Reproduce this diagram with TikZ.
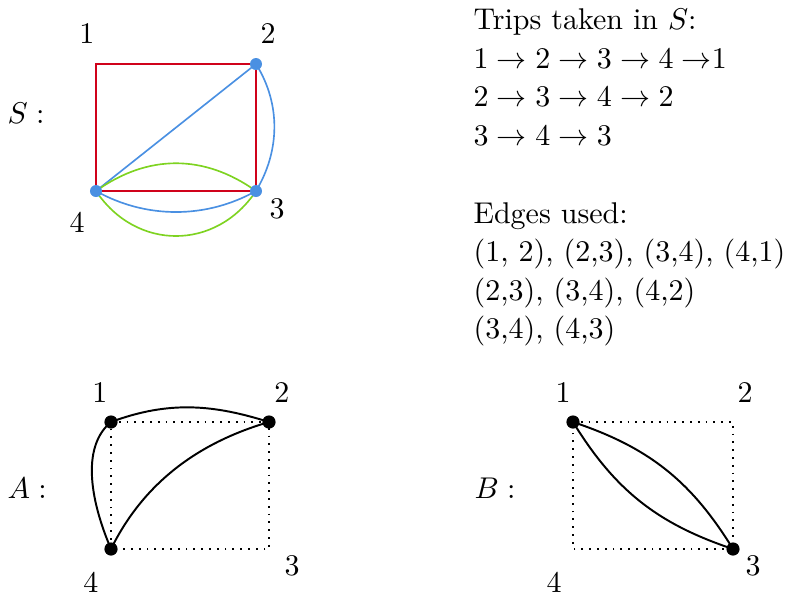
\documentclass[tikz,border=0pt]{standalone}
\definecolor{sred}{HTML}{D0021B}
\definecolor{sblue}{HTML}{4A90E2}
\definecolor{sgreen}{HTML}{7ED321}
\begin{document}
\begin{tikzpicture}[x=0.3333pt,y=-0.3333pt,
  lbl/.style={anchor=base,inner sep=0pt},
  txt/.style={anchor=base west,inner sep=0pt},
  redge/.style={draw=sred,line width=0.7pt},
  bedge/.style={draw=sblue,line width=0.55pt},
  gedge/.style={draw=sgreen,line width=0.55pt},
  kedge/.style={draw=black,line width=0.65pt},
  dedge/.style={draw=black,line width=0.6pt,dotted},
  bdot/.style={circle,fill=sblue,inner sep=0pt,minimum size=4pt},
  kdot/.style={circle,fill=black,inner sep=0pt,minimum size=4.4pt}]
\useasboundingbox (0,0) rectangle (798,597);

% ---------- S ----------
\coordinate (s1) at (96,64);
\coordinate (s2) at (256,64);
\coordinate (s3) at (256,191);
\coordinate (s4) at (96,191);
\draw[redge] (s1) -- (s2) -- (s3) -- (s4) -- cycle;
\draw[bedge] (s4) -- (s2);
\draw[bedge] (s2) .. controls +(25,40) and +(24,-40) .. (s3);
\draw[bedge] (s4) .. controls +(50,28) and +(-50,28) .. (s3);
\draw[gedge] (s4) .. controls +(52,-37) and +(-52,-37) .. (s3);
\draw[gedge] (s4) .. controls +(40,60) and +(-40,60) .. (s3);
\node[bdot] (ds2) at (s2) {};
\node[bdot] (ds3) at (s3) {};
\node[bdot] (ds4) at (s4) {};
\node[lbl] (ls1) at (87,43) {1};
\node[lbl] (ls2) at (268,43) {2};
\node[lbl] (ls3) at (277,218) {3};
\node[lbl] (ls4) at (77,232) {4};
\node[txt] (sname) at (7,123) {$S:$};

% ---------- A ----------
\coordinate (a1) at (111,422);
\coordinate (a2) at (269,422);
\coordinate (a3) at (269,549);
\coordinate (a4) at (111,549);
\draw[dedge] (a1) -- (a2) -- (a3) -- (a4) -- cycle;
\draw[kedge] (a1) .. controls (170,400) and (215,405) .. (a2);
\draw[kedge] (a1) .. controls (83,445) and (88,495) .. (a4);
\draw[kedge] (a4) .. controls (140,490) and (190,445) .. (a2);
\node[kdot] (da1) at (a1) {};
\node[kdot] (da2) at (a2) {};
\node[kdot] (da4) at (a4) {};
\node[lbl] (la1) at (100,402) {1};
\node[lbl] (la2) at (282,402) {2};
\node[lbl] (la3) at (292,575) {3};
\node[lbl] (la4) at (91,592) {4};
\node[txt] (aname) at (7,498) {$A:$};

% ---------- B ----------
\coordinate (b1) at (573,422);
\coordinate (b2) at (733,422);
\coordinate (b3) at (733,549);
\coordinate (b4) at (573,549);
\draw[dedge] (b1) -- (b2) -- (b3) -- (b4) -- cycle;
\draw[kedge] (b1) to[bend left=20] (b3);
\draw[kedge] (b1) to[bend right=20] (b3);
\node[kdot] (db1) at (b1) {};
\node[kdot] (db3) at (b3) {};
\node[lbl] (lb1) at (563,402) {1};
\node[lbl] (lb2) at (745,402) {2};
\node[lbl] (lb3) at (753,575) {3};
\node[lbl] (lb4) at (554,592) {4};
\node[txt] (bname) at (474,498) {$B:$};

% ---------- text ----------
\node[txt] (t1) at (473,29.5) {Trips taken in $S$:};
\node[txt] (t2) at (473,68) {$1\rightarrow 2\rightarrow 3\rightarrow 4\rightarrow$1};
\node[txt] (t3) at (473,106.5) {$2\rightarrow 3\rightarrow 4\rightarrow 2$};
\node[txt] (t4) at (473,145) {$3\rightarrow 4\rightarrow 3$};
\node[txt] (e1) at (473,223) {Edges used:};
\node[txt] (e2) at (473,261.5) {(1, 2), (2,3), (3,4), (4,1)};
\node[txt] (e3) at (473,300) {(2,3), (3,4), (4,2)};
\node[txt] (e4) at (473,338.5) {(3,4), (4,3)};
\end{tikzpicture}
\end{document}
